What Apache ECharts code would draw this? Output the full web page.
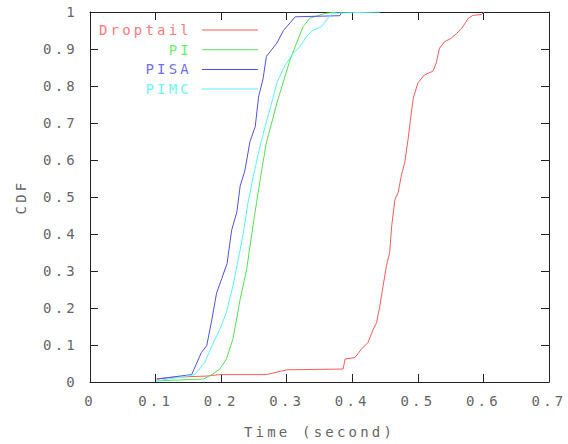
<!DOCTYPE html>
<html>
<head>
<meta charset="utf-8">
<script src="https://cdn.jsdelivr.net/npm/echarts@6/dist/echarts.min.js"></script>
<style>
  html, body { margin: 0; padding: 0; background: #fff; }
  #main { width: 568px; height: 444px; }
  #main text { letter-spacing: 3.2px; }
</style>
</head>
<body>
<div id="main"></div>
<script>
  // CDF of delay
  var dropTime = [0.101, 0.127, 0.178, 0.198, 0.269, 0.300, 0.386, 0.389, 0.404, 0.414, 0.424, 0.432, 0.437, 0.442,
    0.447, 0.452, 0.457, 0.460, 0.465, 0.470, 0.475, 0.480, 0.485, 0.490, 0.493, 0.500, 0.510, 0.523, 0.528,
    0.533, 0.541, 0.551, 0.559, 0.567, 0.577, 0.584, 0.597, 0.601]
  var dropCdf = [0.008, 0.013, 0.016, 0.020, 0.020, 0.033, 0.035, 0.062, 0.066, 0.089, 0.107, 0.143, 0.160, 0.205,
    0.260, 0.313, 0.350, 0.420, 0.493, 0.512, 0.560, 0.593, 0.655, 0.727, 0.767, 0.808, 0.830, 0.840, 0.862,
    0.902, 0.920, 0.929, 0.942, 0.956, 0.983, 0.991, 0.993, 1.0]

  var piTime = [0.101, 0.173, 0.186, 0.198, 0.208, 0.218, 0.229, 0.239, 0.247, 0.254, 0.262, 0.269, 0.277, 0.285,
    0.295, 0.305, 0.315, 0.325, 0.335, 0.358, 0.376]
  var piCdf = [0.003, 0.008, 0.020, 0.035, 0.062, 0.116, 0.224, 0.305, 0.404, 0.485, 0.574, 0.647, 0.700, 0.754,
    0.812, 0.870, 0.916, 0.960, 0.983, 0.996, 1.0]

  var pisaTime = [0.102, 0.155, 0.170, 0.178, 0.186, 0.193, 0.201, 0.209, 0.216, 0.224, 0.229, 0.236, 0.244, 0.252,
    0.257, 0.264, 0.269, 0.285, 0.295, 0.313, 0.381, 0.384]
  var pisaCdf = [0.008, 0.020, 0.080, 0.098, 0.170, 0.240, 0.280, 0.320, 0.410, 0.460, 0.530, 0.570, 0.650, 0.690,
    0.770, 0.820, 0.880, 0.916, 0.950, 0.987, 0.990, 1.0]

  var pimcTime = [0.102, 0.137, 0.160, 0.175, 0.186, 0.198, 0.208, 0.218, 0.226, 0.234, 0.241, 0.249, 0.257, 0.267,
    0.277, 0.285, 0.295, 0.310, 0.320, 0.330, 0.340, 0.353, 0.363, 0.370, 0.442]
  var pimcCdf = [0.003, 0.013, 0.020, 0.053, 0.098, 0.143, 0.188, 0.260, 0.330, 0.404, 0.485, 0.556, 0.620, 0.690,
    0.754, 0.808, 0.848, 0.889, 0.906, 0.933, 0.951, 0.960, 0.983, 0.997, 1.0]

  var names = ['Droptail', 'PI', 'PISA', 'PIMC']
  var colors = ['#ff5a5a', '#55e055', '#5050ee', '#55f5f5']
  var legendColors = ['#ff7a7a', '#70ee70', '#7070ea', '#70f5f5']

  var font = 'DejaVu Sans Mono'
  var textColor = '#666'

  function pairs(xs, ys) {
    return xs.map(function (x, i) { return [x, ys[i]] })
  }
  var seriesData = [pairs(dropTime, dropCdf), pairs(piTime, piCdf), pairs(pisaTime, pisaCdf), pairs(pimcTime, pimcCdf)]

  var chart = echarts.init(document.getElementById('main'), null, { renderer: 'svg' })

  function axis(pos, showLabel, extra) {
    var a = {
      type: 'value',
      position: pos,
      axisLine: { onZero: false, lineStyle: { color: '#222', width: 1 } },
      axisTick: { inside: true, length: 8, lineStyle: { color: '#222' } },
      axisLabel: { show: showLabel, margin: 12, color: textColor, fontFamily: font, fontSize: 14 },
      splitLine: { show: false }
    }
    return Object.assign(a, extra)
  }

  var legends = names.map(function (n, i) {
    return {
      right: 305,
      top: 18 + i * 19.7,
      orient: 'vertical',
      align: 'right',
      icon: 'rect',
      itemWidth: 56,
      itemHeight: 1,
      selectedMode: false,
      data: [{ name: n, textStyle: { color: legendColors[i] } }],
      textStyle: { fontFamily: font, fontSize: 14, padding: [0, 5, 0, 0] }
    }
  })

  chart.setOption({
    backgroundColor: '#fff',
    animation: false,
    legend: legends,
    grid: { left: 90, right: 19, top: 12, bottom: 61 },
    xAxis: [
      axis('bottom', true, {
        min: 0, max: 0.7, interval: 0.1,
        name: 'Time (second)', nameLocation: 'middle', nameGap: 43,
        nameTextStyle: { color: textColor, fontFamily: font, fontSize: 14 }
      }),
      axis('top', false, { min: 0, max: 0.7, interval: 0.1 })
    ],
    yAxis: [
      axis('left', true, {
        min: 0, max: 1, interval: 0.1,
        name: 'CDF', nameLocation: 'middle', nameGap: 62,
        nameTextStyle: { color: textColor, fontFamily: font, fontSize: 14 }
      }),
      axis('right', false, { min: 0, max: 1, interval: 0.1 })
    ],
    series: names.map(function (n, i) {
      return {
        name: n,
        type: 'line',
        showSymbol: false,
        symbol: 'none',
        color: colors[i],
        lineStyle: { width: 1, color: colors[i] },
        data: seriesData[i]
      }
    })
  })
</script>
</body>
</html>
